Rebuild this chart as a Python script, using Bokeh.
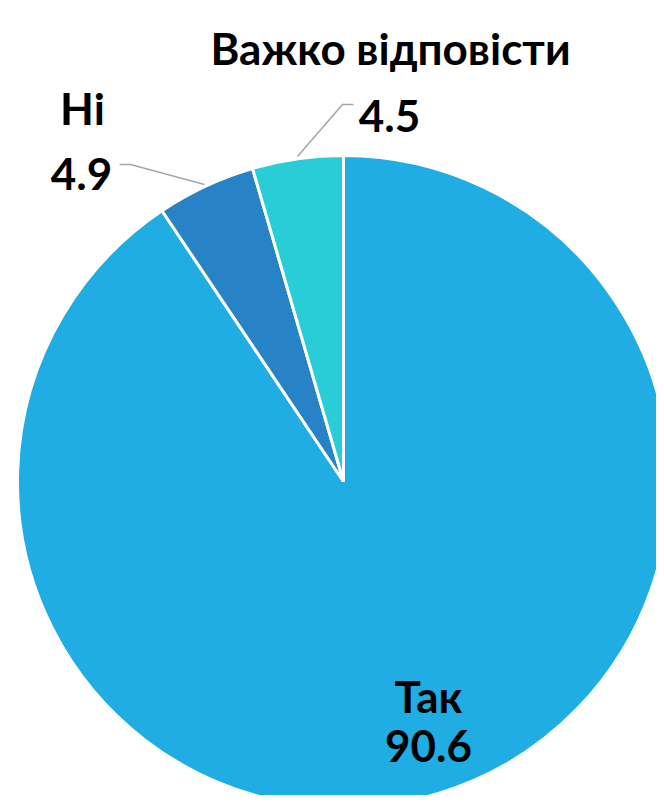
import numpy as np
from bokeh.plotting import figure
from bokeh.models import Range1d, ColumnDataSource
from bokeh.core.properties import value
from bokeh.embed import file_html
from bokeh.resources import INLINE

# ---- data ----
categories = ["Так", "Ні", "Важко відповісти"]
values = [90.6, 4.9, 4.5]
value_labels = ["90.6", "4.9", "4.5"]
colors = ["#1FADE3", "#2882C6", "#29CDD8"]

# ---- layout (pixel-space constants) ----
W, H = 656, 795
CX, CY, R = 343, 481, 326          # pie centre / radius in image pixels
FONT = "Lato"

p = figure(width=W, height=H, output_backend="svg", toolbar_location=None,
           x_range=Range1d(0, W), y_range=Range1d(0, H),
           min_border=0, outline_line_color=None)
p.axis.visible = False
p.grid.visible = False
p.background_fill_color = "white"
p.border_fill_color = "white"

def py(y):  # image pixel y -> data y
    return H - y

total = sum(values)
cum = np.concatenate([[0], np.cumsum(values)]) / total
start = [np.pi / 2 - 2 * np.pi * c for c in cum[:-1]]
end = [np.pi / 2 - 2 * np.pi * c for c in cum[1:]]

src = ColumnDataSource(dict(cat=categories, val=values, start=start, end=end, color=colors))
p.wedge(x=CX, y=py(CY), radius=R, start_angle="start", end_angle="end",
        direction="clock", fill_color="color", line_color="white", line_width=3,
        source=src)

# leader lines
p.line(x=[119, 130, 204], y=[py(164), py(164), py(184)], line_color="#A6A6A6", line_width=1.5)
p.line(x=[353, 342, 297], y=[py(104), py(104), py(156)], line_color="#A6A6A6", line_width=1.5)

# labels: (category position, value position)
cat_pos = {"Так": (428, 695), "Ні": (82, 107), "Важко відповісти": (390, 47)}
val_pos = {"Так": (428, 745), "Ні": (81, 173), "Важко відповісти": (389, 115)}

tx, ty, tt = [], [], []
for c, v in zip(categories, value_labels):
    x, y = cat_pos[c]
    tx.append(x); ty.append(py(y)); tt.append(c)
    x, y = val_pos[c]
    tx.append(x); ty.append(py(y)); tt.append(v)

p.text(x=tx, y=ty, text=tt, text_align="center", text_baseline="alphabetic",
       text_font=value(FONT), text_font_style="bold", text_font_size="44px",
       text_color="#000000")

open("out.html", "w").write(file_html(p, INLINE))
